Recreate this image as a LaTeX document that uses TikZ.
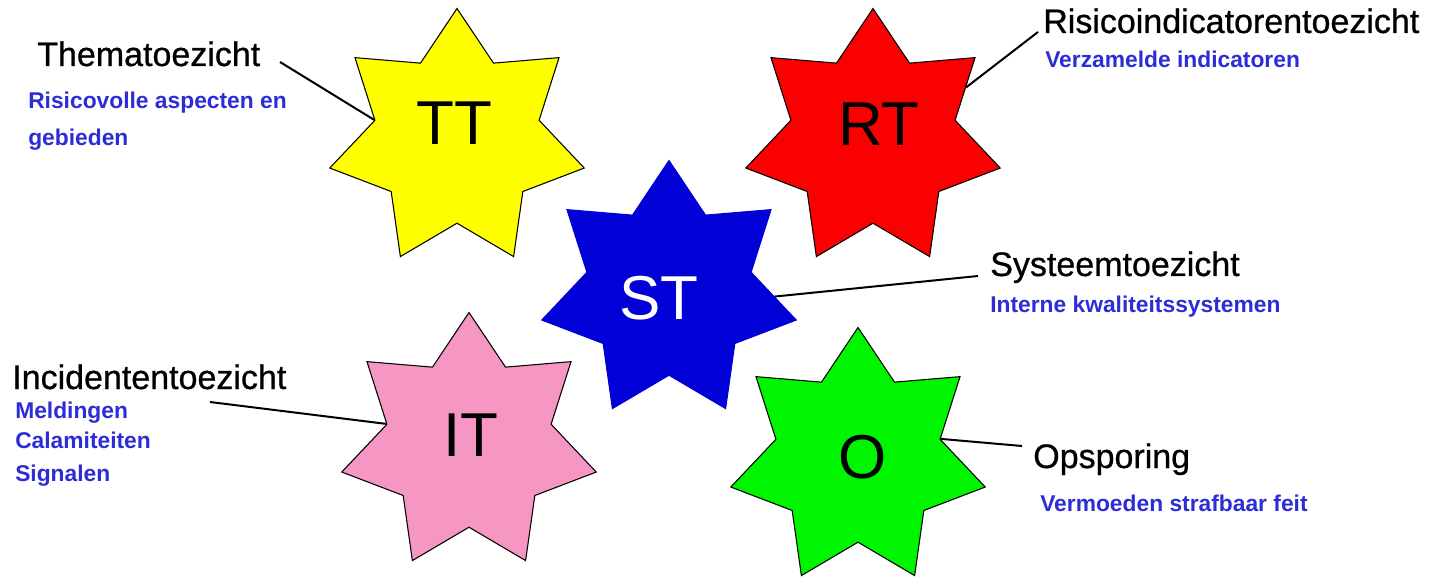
\documentclass[tikz,border=0pt]{standalone}
\usepackage{fontspec}
\setmainfont{Liberation Sans}
\newfontfamily\headfont[FakeBold=0.7]{Liberation Sans}
\usetikzlibrary{shapes.geometric}
\definecolor{styellow}{RGB}{255,255,0}
\definecolor{stred}{RGB}{250,0,0}
\definecolor{stblue}{RGB}{0,0,215}
\definecolor{stpink}{RGB}{245,150,195}
\definecolor{stgreen}{RGB}{0,245,0}
\definecolor{subblue}{RGB}{45,45,215}
\begin{document}
\begin{tikzpicture}[x=0.75pt,y=-0.75pt,
  starbox/.style={star, star points=7, star point ratio=1.55, minimum size=195.75pt, inner sep=0pt, draw=black, line width=0.8pt},
  head/.style={anchor=base west, inner sep=0pt, font=\headfont\fontsize{25.5}{30}\selectfont},
  sub/.style={anchor=base west, inner sep=0pt, text=subblue, font=\fontsize{17.1}{20}\selectfont\bfseries},
  lbl/.style={inner sep=0pt, font=\fontsize{46.5}{50}\selectfont},
  conn/.style={draw=black, line width=1.5pt}]
\useasboundingbox[fill=white] (0,0) rectangle (1435,577);
% stars
\node[starbox, fill=styellow] (tt) at (457,139) {};
\node[starbox, fill=stred] (rt) at (873,139) {};
\node[starbox, fill=stblue, draw=stblue] (st) at (669,291) {};
\node[starbox, fill=stpink] (it) at (469,443) {};
\node[starbox, fill=stgreen] (o) at (858,458) {};
% star labels
\node[lbl] (ttl) at (454,123) {TT};
\node[lbl] (rtl) at (879,124) {RT};
\node[lbl, text=white] (stl) at (659,298) {ST};
\node[lbl] (itl) at (471,435) {IT};
\node[lbl] (ol) at (863,457) {O};
% texts
\node[head] (tth) at (37,66) {Thematoezicht};
\node[sub] (tts1) at (28,109) {Risicovolle aspecten en};
\node[sub] (tts2) at (28,146) {gebieden};
\node[head] (rth) at (1043,33) {Risicoindicatorentoezicht};
\node[sub] (rts) at (1045,68) {Verzamelde indicatoren};
\node[head] (sth) at (990,276) {Systeemtoezicht};
\node[sub] (sts) at (990,313) {Interne kwaliteitssystemen};
\node[head] (ith) at (12,389) {Incidententoezicht};
\node[sub] (its1) at (15,418) {Meldingen};
\node[sub] (its2) at (15,448) {Calamiteiten};
\node[sub] (its3) at (15,481) {Signalen};
\node[head] (oh) at (1033,468) {Opsporing};
\node[sub] (os) at (1040,511) {Vermoeden strafbaar feit};
% connector free ends
\coordinate (ttc) at (280,62);
\coordinate (rtc) at (1038,32);
\coordinate (stc) at (978,276);
\coordinate (itc) at (210,402);
\coordinate (oc) at (1022,446);
\draw[conn] (ttc) -- (tt.167);
\draw[conn] (rtc) -- (rt.29);
\draw[conn] (stc) -- (st.-3);
\draw[conn] (itc) -- (it.167);
\draw[conn] (oc) -- (o.13);
\end{tikzpicture}
\end{document}
